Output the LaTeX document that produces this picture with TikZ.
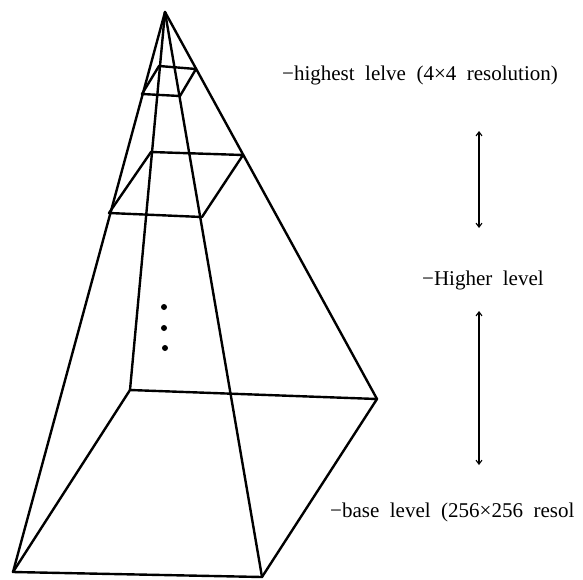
\documentclass[tikz,border=0pt]{standalone}
\usepackage{fontspec}
\setmainfont{Liberation Serif}
\usetikzlibrary{arrows.meta}
\begin{document}
\begin{tikzpicture}[x=1pt,y=-1pt,
  edge/.style={line width=2.4pt,line join=round,line cap=round},
  dbl/.style={line width=1.1pt,{Straight Barb[length=4pt,width=6pt]}-{Straight Barb[length=4pt,width=6pt]}},
  lbl/.style={anchor=base west,inner sep=0pt,font=\fontsize{21}{23}\selectfont},
  dotmark/.style={circle,fill=black,inner sep=0pt,minimum size=6pt}]
\useasboundingbox (0,0) rectangle (583,579);
% apex and base
\coordinate (apex) at (165,12);
\coordinate (bbl) at (130,390);
\coordinate (bbr) at (377,399);
\coordinate (bfl) at (13,572);
\coordinate (bfr) at (262,577);
% medium level
\coordinate (mbl) at (151,152);
\coordinate (mbr) at (243,155);
\coordinate (mfl) at (109,213);
\coordinate (mfr) at (202,217);
% small level
\coordinate (sbl) at (159,66);
\coordinate (sbr) at (196,69);
\coordinate (sfl) at (142,94);
\coordinate (sfr) at (180,96);
% edges
\draw[edge] (apex) -- (bbl);
\draw[edge] (apex) -- (bbr);
\draw[edge] (apex) -- (bfl);
\draw[edge] (apex) -- (bfr);
\draw[edge] (bbl) -- (bbr) -- (bfr) -- (bfl) -- cycle;
\draw[edge] (mbl) -- (mbr) -- (mfr) -- (mfl) -- cycle;
\draw[edge] (sbl) -- (sbr) -- (sfr) -- (sfl) -- cycle;
% dots
\node[dotmark] (d1) at (164,307) {};
\node[dotmark] (d2) at (164,328) {};
\node[dotmark] (d3) at (165,348) {};
% arrows
\coordinate (a1t) at (479,131);
\coordinate (a1b) at (479,228);
\coordinate (a2t) at (479,311);
\coordinate (a2b) at (479,465);
\draw[dbl] (a1t) -- (a1b);
\draw[dbl] (a2t) -- (a2b);
% labels
\node[lbl] (l1) at (282,80) {−highest\ \ lelve\ \ (4×4\ \ resolution)};
\node[lbl] (l2) at (422,285) {−Higher\ \ level};
\node[lbl] (l3) at (330,517) {−base\ \ level\ \ (256×256\ \ resol};
\end{tikzpicture}
\end{document}
